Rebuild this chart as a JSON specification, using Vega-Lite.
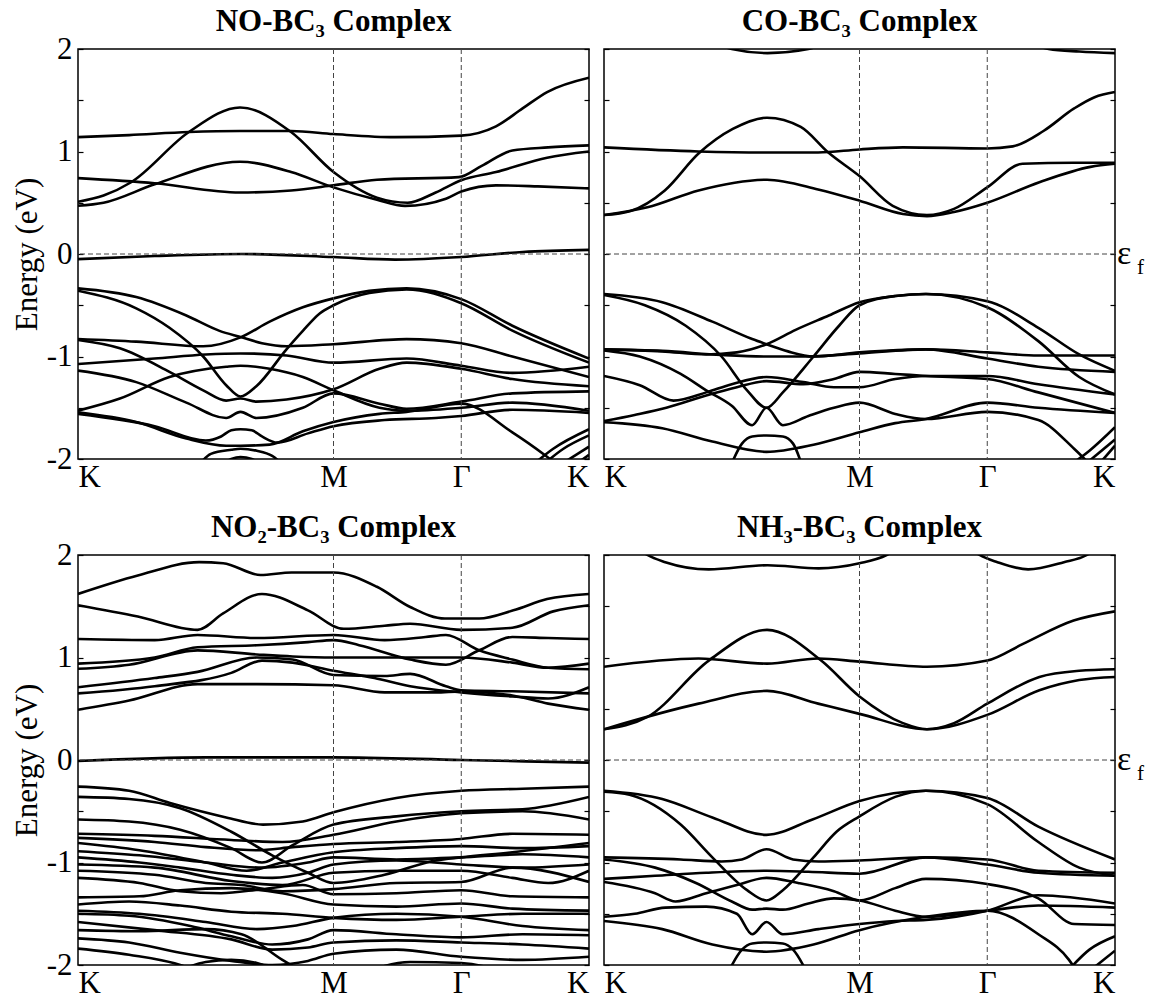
{
"$schema":"https://vega.github.io/schema/vega-lite/v6.json",
"padding":{"left":10,"top":5,"right":5,"bottom":0},
"background":"white",
"datasets":{
"no":[
{"b":"F","x":0,"e":-0.05},{"b":"F","x":0.15,"e":-0.02},{"b":"F","x":0.32,"e":0},{"b":"F","x":0.5,"e":-0.03},{"b":"F","x":0.62,"e":-0.055},{"b":"F","x":0.75,"e":-0.03},{"b":"F","x":0.87,"e":0.02},{"b":"F","x":1,"e":0.04},
{"b":"A","x":0,"e":1.14},{"b":"A","x":0.1,"e":1.16},{"b":"A","x":0.217,"e":1.19},{"b":"A","x":0.317,"e":1.2},{"b":"A","x":0.417,"e":1.2},{"b":"A","x":0.5,"e":1.17},{"b":"A","x":0.62,"e":1.14},{"b":"A","x":0.75,"e":1.155},{"b":"A","x":0.818,"e":1.245},{"b":"A","x":0.87,"e":1.42},{"b":"A","x":0.918,"e":1.58},{"b":"A","x":1,"e":1.72},
{"b":"B","x":0,"e":0.51},{"b":"B","x":0.05,"e":0.57},{"b":"B","x":0.104,"e":0.7},{"b":"B","x":0.217,"e":1.19},{"b":"B","x":0.317,"e":1.43},{"b":"B","x":0.417,"e":1.19},{"b":"B","x":0.5,"e":0.8},{"b":"B","x":0.585,"e":0.55},{"b":"B","x":0.645,"e":0.5},{"b":"B","x":0.7,"e":0.6},{"b":"B","x":0.75,"e":0.72},{"b":"B","x":0.818,"e":0.8},{"b":"B","x":0.918,"e":0.94},{"b":"B","x":1,"e":1.0},
{"b":"C","x":0,"e":0.74},{"b":"C","x":0.15,"e":0.69},{"b":"C","x":0.317,"e":0.6},{"b":"C","x":0.417,"e":0.62},{"b":"C","x":0.5,"e":0.67},{"b":"C","x":0.585,"e":0.725},{"b":"C","x":0.745,"e":0.75},{"b":"C","x":0.79,"e":0.86},{"b":"C","x":0.85,"e":1.01},{"b":"C","x":0.92,"e":1.04},{"b":"C","x":1,"e":1.06},
{"b":"D","x":0,"e":0.47},{"b":"D","x":0.05,"e":0.5},{"b":"D","x":0.15,"e":0.68},{"b":"D","x":0.317,"e":0.9},{"b":"D","x":0.417,"e":0.8},{"b":"D","x":0.5,"e":0.65},{"b":"D","x":0.585,"e":0.53},{"b":"D","x":0.64,"e":0.47},{"b":"D","x":0.72,"e":0.54},{"b":"D","x":0.75,"e":0.61},{"b":"D","x":0.818,"e":0.67},{"b":"D","x":0.9,"e":0.66},{"b":"D","x":1,"e":0.64},
{"b":"L1","x":0,"e":-0.335},{"b":"L1","x":0.114,"e":-0.42},{"b":"L1","x":0.212,"e":-0.6},{"b":"L1","x":0.277,"e":-0.75},{"b":"L1","x":0.318,"e":-0.81},{"b":"L1","x":0.36,"e":-0.87},{"b":"L1","x":0.408,"e":-0.9},{"b":"L1","x":0.5,"e":-0.88},{"b":"L1","x":0.643,"e":-0.83},{"b":"L1","x":0.75,"e":-0.87},{"b":"L1","x":0.85,"e":-1.0},{"b":"L1","x":1,"e":-1.2},
{"b":"L2","x":0,"e":-0.358},{"b":"L2","x":0.114,"e":-0.53},{"b":"L2","x":0.179,"e":-0.72},{"b":"L2","x":0.245,"e":-1.0},{"b":"L2","x":0.29,"e":-1.28},{"b":"L2","x":0.318,"e":-1.39},{"b":"L2","x":0.349,"e":-1.29},{"b":"L2","x":0.408,"e":-0.93},{"b":"L2","x":0.44,"e":-0.75},{"b":"L2","x":0.473,"e":-0.58},{"b":"L2","x":0.5,"e":-0.5},{"b":"L2","x":0.57,"e":-0.38},{"b":"L2","x":0.643,"e":-0.345},{"b":"L2","x":0.75,"e":-0.48},{"b":"L2","x":0.851,"e":-0.75},{"b":"L2","x":1,"e":-1.06},
{"b":"L3","x":0,"e":-0.829},{"b":"L3","x":0.114,"e":-0.855},{"b":"L3","x":0.245,"e":-0.9},{"b":"L3","x":0.318,"e":-0.813},{"b":"L3","x":0.375,"e":-0.66},{"b":"L3","x":0.44,"e":-0.52},{"b":"L3","x":0.5,"e":-0.433},{"b":"L3","x":0.57,"e":-0.36},{"b":"L3","x":0.643,"e":-0.335},{"b":"L3","x":0.75,"e":-0.44},{"b":"L3","x":0.85,"e":-0.7},{"b":"L3","x":1,"e":-1.02},
{"b":"L4","x":0,"e":-0.839},{"b":"L4","x":0.082,"e":-0.92},{"b":"L4","x":0.179,"e":-1.15},{"b":"L4","x":0.245,"e":-1.33},{"b":"L4","x":0.29,"e":-1.43},{"b":"L4","x":0.318,"e":-1.41},{"b":"L4","x":0.349,"e":-1.44},{"b":"L4","x":0.408,"e":-1.42},{"b":"L4","x":0.5,"e":-1.32},{"b":"L4","x":0.59,"e":-1.12},{"b":"L4","x":0.643,"e":-1.06},{"b":"L4","x":0.75,"e":-1.12},{"b":"L4","x":0.85,"e":-1.22},{"b":"L4","x":1,"e":-1.29},
{"b":"L5","x":0,"e":-1.073},{"b":"L5","x":0.15,"e":-1.02},{"b":"L5","x":0.25,"e":-0.98},{"b":"L5","x":0.318,"e":-0.97},{"b":"L5","x":0.408,"e":-0.99},{"b":"L5","x":0.5,"e":-1.06},{"b":"L5","x":0.643,"e":-1.02},{"b":"L5","x":0.75,"e":-1.09},{"b":"L5","x":0.85,"e":-1.16},{"b":"L5","x":1,"e":-1.1},
{"b":"L6","x":0,"e":-1.138},{"b":"L6","x":0.114,"e":-1.25},{"b":"L6","x":0.212,"e":-1.45},{"b":"L6","x":0.29,"e":-1.6},{"b":"L6","x":0.318,"e":-1.54},{"b":"L6","x":0.349,"e":-1.6},{"b":"L6","x":0.44,"e":-1.5},{"b":"L6","x":0.5,"e":-1.36},{"b":"L6","x":0.59,"e":-1.46},{"b":"L6","x":0.643,"e":-1.51},{"b":"L6","x":0.75,"e":-1.44},{"b":"L6","x":0.85,"e":-1.36},{"b":"L6","x":1,"e":-1.34},
{"b":"L7","x":0,"e":-1.528},{"b":"L7","x":0.082,"e":-1.41},{"b":"L7","x":0.179,"e":-1.2},{"b":"L7","x":0.29,"e":-1.1},{"b":"L7","x":0.318,"e":-1.09},{"b":"L7","x":0.375,"e":-1.12},{"b":"L7","x":0.44,"e":-1.2},{"b":"L7","x":0.5,"e":-1.33},{"b":"L7","x":0.59,"e":-1.5},{"b":"L7","x":0.643,"e":-1.53},{"b":"L7","x":0.75,"e":-1.5},{"b":"L7","x":0.85,"e":-1.45},{"b":"L7","x":1,"e":-1.53},
{"b":"L8","x":0,"e":-1.545},{"b":"L8","x":0.114,"e":-1.64},{"b":"L8","x":0.212,"e":-1.8},{"b":"L8","x":0.29,"e":-1.87},{"b":"L8","x":0.318,"e":-1.87},{"b":"L8","x":0.375,"e":-1.86},{"b":"L8","x":0.44,"e":-1.73},{"b":"L8","x":0.5,"e":-1.64},{"b":"L8","x":0.59,"e":-1.56},{"b":"L8","x":0.643,"e":-1.54},{"b":"L8","x":0.75,"e":-1.46},{"b":"L8","x":0.85,"e":-1.74},{"b":"L8","x":0.916,"e":-1.97},{"b":"L8","x":0.95,"e":-2.1},
{"b":"L9","x":0,"e":-1.56},{"b":"L9","x":0.15,"e":-1.68},{"b":"L9","x":0.25,"e":-1.82},{"b":"L9","x":0.28,"e":-1.78},{"b":"L9","x":0.3,"e":-1.72},{"b":"L9","x":0.318,"e":-1.71},{"b":"L9","x":0.34,"e":-1.72},{"b":"L9","x":0.36,"e":-1.78},{"b":"L9","x":0.39,"e":-1.84},{"b":"L9","x":0.45,"e":-1.75},{"b":"L9","x":0.5,"e":-1.68},{"b":"L9","x":0.6,"e":-1.62},{"b":"L9","x":0.7,"e":-1.6},{"b":"L9","x":0.75,"e":-1.58},{"b":"L9","x":0.85,"e":-1.52},{"b":"L9","x":1,"e":-1.55},
{"b":"L10","x":0.23,"e":-2.1},{"b":"L10","x":0.26,"e":-1.95},{"b":"L10","x":0.3,"e":-1.91},{"b":"L10","x":0.318,"e":-1.9},{"b":"L10","x":0.35,"e":-1.92},{"b":"L10","x":0.38,"e":-1.97},{"b":"L10","x":0.41,"e":-2.1},
{"b":"L11","x":0.27,"e":-2.1},{"b":"L11","x":0.3,"e":-2.0},{"b":"L11","x":0.318,"e":-1.98},{"b":"L11","x":0.34,"e":-2.0},{"b":"L11","x":0.37,"e":-2.1},
{"b":"L12","x":0.88,"e":-2.1},{"b":"L12","x":0.93,"e":-1.9},{"b":"L12","x":1,"e":-1.71},
{"b":"L13","x":0.9,"e":-2.1},{"b":"L13","x":0.95,"e":-1.9},{"b":"L13","x":1,"e":-1.77},
{"b":"L14","x":0.93,"e":-2.1},{"b":"L14","x":1,"e":-1.88},
{"b":"L15","x":0.96,"e":-2.1},{"b":"L15","x":1,"e":-1.96}
],
"co":[
{"b":"T1","x":0.22,"e":2.05},{"b":"T1","x":0.25,"e":2.0},{"b":"T1","x":0.32,"e":1.96},{"b":"T1","x":0.4,"e":2.0},{"b":"T1","x":0.43,"e":2.05},
{"b":"T2","x":0.84,"e":2.05},{"b":"T2","x":0.87,"e":2.0},{"b":"T2","x":0.93,"e":1.975},{"b":"T2","x":1,"e":1.96},
{"b":"A","x":0,"e":1.04},{"b":"A","x":0.185,"e":1.0},{"b":"A","x":0.319,"e":0.99},{"b":"A","x":0.419,"e":0.99},{"b":"A","x":0.5,"e":1.02},{"b":"A","x":0.585,"e":1.04},{"b":"A","x":0.75,"e":1.03},{"b":"A","x":0.8,"e":1.05},{"b":"A","x":0.86,"e":1.2},{"b":"A","x":0.92,"e":1.42},{"b":"A","x":0.96,"e":1.53},{"b":"A","x":1,"e":1.58},
{"b":"B","x":0,"e":0.38},{"b":"B","x":0.052,"e":0.42},{"b":"B","x":0.119,"e":0.62},{"b":"B","x":0.185,"e":0.98},{"b":"B","x":0.252,"e":1.22},{"b":"B","x":0.319,"e":1.33},{"b":"B","x":0.385,"e":1.24},{"b":"B","x":0.439,"e":0.99},{"b":"B","x":0.5,"e":0.76},{"b":"B","x":0.565,"e":0.47},{"b":"B","x":0.632,"e":0.38},{"b":"B","x":0.685,"e":0.44},{"b":"B","x":0.75,"e":0.65},{"b":"B","x":0.819,"e":0.88},{"b":"B","x":0.919,"e":0.89},{"b":"B","x":1,"e":0.89},
{"b":"C","x":0,"e":0.38},{"b":"C","x":0.085,"e":0.455},{"b":"C","x":0.185,"e":0.62},{"b":"C","x":0.319,"e":0.725},{"b":"C","x":0.419,"e":0.63},{"b":"C","x":0.5,"e":0.52},{"b":"C","x":0.585,"e":0.39},{"b":"C","x":0.632,"e":0.37},{"b":"C","x":0.685,"e":0.41},{"b":"C","x":0.75,"e":0.5},{"b":"C","x":0.852,"e":0.7},{"b":"C","x":0.952,"e":0.85},{"b":"C","x":1,"e":0.88},
{"b":"C1","x":0,"e":-0.39},{"b":"C1","x":0.114,"e":-0.47},{"b":"C1","x":0.212,"e":-0.66},{"b":"C1","x":0.29,"e":-0.83},{"b":"C1","x":0.318,"e":-0.88},{"b":"C1","x":0.36,"e":-0.95},{"b":"C1","x":0.41,"e":-1.0},{"b":"C1","x":0.5,"e":-0.96},{"b":"C1","x":0.63,"e":-0.93},{"b":"C1","x":0.75,"e":-0.96},{"b":"C1","x":0.85,"e":-0.99},{"b":"C1","x":1,"e":-0.99},
{"b":"C2","x":0,"e":-0.4},{"b":"C2","x":0.08,"e":-0.5},{"b":"C2","x":0.16,"e":-0.7},{"b":"C2","x":0.23,"e":-1.0},{"b":"C2","x":0.28,"e":-1.33},{"b":"C2","x":0.318,"e":-1.5},{"b":"C2","x":0.35,"e":-1.35},{"b":"C2","x":0.41,"e":-1.0},{"b":"C2","x":0.46,"e":-0.7},{"b":"C2","x":0.5,"e":-0.5},{"b":"C2","x":0.57,"e":-0.41},{"b":"C2","x":0.63,"e":-0.39},{"b":"C2","x":0.75,"e":-0.52},{"b":"C2","x":0.85,"e":-0.85},{"b":"C2","x":0.93,"e":-1.2},{"b":"C2","x":1,"e":-1.37},
{"b":"C3","x":0,"e":-0.93},{"b":"C3","x":0.114,"e":-0.95},{"b":"C3","x":0.2,"e":-0.98},{"b":"C3","x":0.26,"e":-0.96},{"b":"C3","x":0.318,"e":-0.88},{"b":"C3","x":0.375,"e":-0.74},{"b":"C3","x":0.44,"e":-0.6},{"b":"C3","x":0.5,"e":-0.47},{"b":"C3","x":0.57,"e":-0.41},{"b":"C3","x":0.63,"e":-0.39},{"b":"C3","x":0.75,"e":-0.46},{"b":"C3","x":0.85,"e":-0.72},{"b":"C3","x":0.93,"e":-0.98},{"b":"C3","x":1,"e":-1.14},
{"b":"C5","x":0,"e":-0.93},{"b":"C5","x":0.114,"e":-0.945},{"b":"C5","x":0.23,"e":-0.985},{"b":"C5","x":0.318,"e":-1.0},{"b":"C5","x":0.4,"e":-1.0},{"b":"C5","x":0.5,"e":-0.97},{"b":"C5","x":0.63,"e":-0.93},{"b":"C5","x":0.75,"e":-1.02},{"b":"C5","x":0.85,"e":-1.1},{"b":"C5","x":1,"e":-1.15},
{"b":"C4","x":0,"e":-0.94},{"b":"C4","x":0.07,"e":-1.0},{"b":"C4","x":0.15,"e":-1.17},{"b":"C4","x":0.2,"e":-1.33},{"b":"C4","x":0.25,"e":-1.48},{"b":"C4","x":0.29,"e":-1.67},{"b":"C4","x":0.318,"e":-1.5},{"b":"C4","x":0.35,"e":-1.67},{"b":"C4","x":0.4,"e":-1.58},{"b":"C4","x":0.45,"e":-1.5},{"b":"C4","x":0.5,"e":-1.45},{"b":"C4","x":0.57,"e":-1.56},{"b":"C4","x":0.63,"e":-1.61},{"b":"C4","x":0.75,"e":-1.54},{"b":"C4","x":0.85,"e":-1.62},{"b":"C4","x":0.92,"e":-1.9},{"b":"C4","x":0.96,"e":-2.1},
{"b":"C6","x":0,"e":-1.19},{"b":"C6","x":0.07,"e":-1.28},{"b":"C6","x":0.136,"e":-1.43},{"b":"C6","x":0.2,"e":-1.35},{"b":"C6","x":0.25,"e":-1.27},{"b":"C6","x":0.318,"e":-1.2},{"b":"C6","x":0.39,"e":-1.25},{"b":"C6","x":0.45,"e":-1.3},{"b":"C6","x":0.5,"e":-1.3},{"b":"C6","x":0.57,"e":-1.22},{"b":"C6","x":0.63,"e":-1.19},{"b":"C6","x":0.75,"e":-1.19},{"b":"C6","x":0.85,"e":-1.27},{"b":"C6","x":1,"e":-1.37},
{"b":"C8","x":0,"e":-1.63},{"b":"C8","x":0.06,"e":-1.57},{"b":"C8","x":0.122,"e":-1.5},{"b":"C8","x":0.2,"e":-1.38},{"b":"C8","x":0.26,"e":-1.3},{"b":"C8","x":0.318,"e":-1.24},{"b":"C8","x":0.39,"e":-1.27},{"b":"C8","x":0.45,"e":-1.22},{"b":"C8","x":0.5,"e":-1.15},{"b":"C8","x":0.57,"e":-1.17},{"b":"C8","x":0.63,"e":-1.19},{"b":"C8","x":0.75,"e":-1.22},{"b":"C8","x":0.85,"e":-1.35},{"b":"C8","x":1,"e":-1.55},
{"b":"C9","x":0,"e":-1.64},{"b":"C9","x":0.114,"e":-1.7},{"b":"C9","x":0.212,"e":-1.83},{"b":"C9","x":0.318,"e":-1.93},{"b":"C9","x":0.41,"e":-1.86},{"b":"C9","x":0.5,"e":-1.74},{"b":"C9","x":0.57,"e":-1.65},{"b":"C9","x":0.63,"e":-1.61},{"b":"C9","x":0.75,"e":-1.45},{"b":"C9","x":0.85,"e":-1.5},{"b":"C9","x":1,"e":-1.55},
{"b":"C10","x":0.245,"e":-2.1},{"b":"C10","x":0.27,"e":-1.85},{"b":"C10","x":0.29,"e":-1.78},{"b":"C10","x":0.318,"e":-1.77},{"b":"C10","x":0.35,"e":-1.78},{"b":"C10","x":0.37,"e":-1.85},{"b":"C10","x":0.39,"e":-2.1},
{"b":"C11","x":0.9,"e":-2.1},{"b":"C11","x":0.95,"e":-1.92},{"b":"C11","x":1,"e":-1.69},
{"b":"C12","x":0.93,"e":-2.1},{"b":"C12","x":1,"e":-1.81},
{"b":"C13","x":0.96,"e":-2.1},{"b":"C13","x":1,"e":-1.87}
],
"no2":[
{"b":"F","x":0,"e":-0.01},{"b":"F","x":0.25,"e":0.026},{"b":"F","x":0.5,"e":0.026},{"b":"F","x":0.75,"e":0.0},{"b":"F","x":1,"e":-0.026},
{"b":"U1","x":0,"e":1.62},{"b":"U1","x":0.117,"e":1.8},{"b":"U1","x":0.237,"e":1.93},{"b":"U1","x":0.284,"e":1.92},{"b":"U1","x":0.357,"e":1.805},{"b":"U1","x":0.418,"e":1.83},{"b":"U1","x":0.5,"e":1.83},{"b":"U1","x":0.585,"e":1.69},{"b":"U1","x":0.651,"e":1.49},{"b":"U1","x":0.718,"e":1.38},{"b":"U1","x":0.785,"e":1.38},{"b":"U1","x":0.852,"e":1.46},{"b":"U1","x":0.918,"e":1.57},{"b":"U1","x":1,"e":1.62},
{"b":"U2","x":0,"e":1.51},{"b":"U2","x":0.117,"e":1.4},{"b":"U2","x":0.234,"e":1.27},{"b":"U2","x":0.284,"e":1.43},{"b":"U2","x":0.36,"e":1.62},{"b":"U2","x":0.45,"e":1.46},{"b":"U2","x":0.52,"e":1.28},{"b":"U2","x":0.6,"e":1.31},{"b":"U2","x":0.65,"e":1.33},{"b":"U2","x":0.75,"e":1.27},{"b":"U2","x":0.85,"e":1.29},{"b":"U2","x":0.93,"e":1.45},{"b":"U2","x":1,"e":1.51},
{"b":"U3","x":0,"e":1.18},{"b":"U3","x":0.15,"e":1.17},{"b":"U3","x":0.234,"e":1.22},{"b":"U3","x":0.35,"e":1.19},{"b":"U3","x":0.5,"e":1.22},{"b":"U3","x":0.6,"e":1.17},{"b":"U3","x":0.68,"e":1.2},{"b":"U3","x":0.72,"e":1.22},{"b":"U3","x":0.785,"e":1.07},{"b":"U3","x":0.85,"e":0.98},{"b":"U3","x":0.92,"e":0.9},{"b":"U3","x":1,"e":0.885},
{"b":"U4","x":0,"e":0.94},{"b":"U4","x":0.15,"e":1.0},{"b":"U4","x":0.234,"e":1.1},{"b":"U4","x":0.35,"e":1.12},{"b":"U4","x":0.45,"e":1.15},{"b":"U4","x":0.5,"e":1.17},{"b":"U4","x":0.55,"e":1.12},{"b":"U4","x":0.65,"e":0.98},{"b":"U4","x":0.72,"e":0.93},{"b":"U4","x":0.785,"e":1.07},{"b":"U4","x":0.85,"e":1.2},{"b":"U4","x":0.92,"e":1.19},{"b":"U4","x":1,"e":1.18},
{"b":"U5","x":0,"e":0.89},{"b":"U5","x":0.1,"e":0.93},{"b":"U5","x":0.234,"e":1.07},{"b":"U5","x":0.35,"e":1.03},{"b":"U5","x":0.42,"e":1.01},{"b":"U5","x":0.5,"e":1.0},{"b":"U5","x":0.6,"e":1.0},{"b":"U5","x":0.75,"e":1.0},{"b":"U5","x":0.85,"e":0.95},{"b":"U5","x":0.92,"e":0.9},{"b":"U5","x":1,"e":0.94},
{"b":"U6","x":0,"e":0.71},{"b":"U6","x":0.15,"e":0.8},{"b":"U6","x":0.234,"e":0.86},{"b":"U6","x":0.35,"e":1.0},{"b":"U6","x":0.42,"e":0.98},{"b":"U6","x":0.5,"e":0.83},{"b":"U6","x":0.6,"e":0.82},{"b":"U6","x":0.65,"e":0.84},{"b":"U6","x":0.72,"e":0.72},{"b":"U6","x":0.75,"e":0.68},{"b":"U6","x":0.85,"e":0.67},{"b":"U6","x":1,"e":0.65},
{"b":"U7","x":0,"e":0.65},{"b":"U7","x":0.15,"e":0.72},{"b":"U7","x":0.3,"e":0.85},{"b":"U7","x":0.36,"e":0.97},{"b":"U7","x":0.42,"e":0.95},{"b":"U7","x":0.5,"e":0.87},{"b":"U7","x":0.58,"e":0.8},{"b":"U7","x":0.65,"e":0.72},{"b":"U7","x":0.75,"e":0.66},{"b":"U7","x":0.85,"e":0.62},{"b":"U7","x":0.92,"e":0.6},{"b":"U7","x":1,"e":0.71},
{"b":"U8","x":0,"e":0.49},{"b":"U8","x":0.1,"e":0.58},{"b":"U8","x":0.234,"e":0.74},{"b":"U8","x":0.35,"e":0.74},{"b":"U8","x":0.5,"e":0.73},{"b":"U8","x":0.6,"e":0.66},{"b":"U8","x":0.7,"e":0.66},{"b":"U8","x":0.75,"e":0.67},{"b":"U8","x":0.85,"e":0.63},{"b":"U8","x":0.92,"e":0.55},{"b":"U8","x":1,"e":0.49},
{"b":"W1","x":0,"e":-0.26},{"b":"W1","x":0.1,"e":-0.3},{"b":"W1","x":0.18,"e":-0.42},{"b":"W1","x":0.29,"e":-0.56},{"b":"W1","x":0.362,"e":-0.63},{"b":"W1","x":0.44,"e":-0.6},{"b":"W1","x":0.5,"e":-0.51},{"b":"W1","x":0.623,"e":-0.37},{"b":"W1","x":0.75,"e":-0.3},{"b":"W1","x":0.87,"e":-0.28},{"b":"W1","x":1,"e":-0.26},
{"b":"W2","x":0,"e":-0.36},{"b":"W2","x":0.1,"e":-0.38},{"b":"W2","x":0.2,"e":-0.47},{"b":"W2","x":0.3,"e":-0.7},{"b":"W2","x":0.38,"e":-0.93},{"b":"W2","x":0.45,"e":-1.1},{"b":"W2","x":0.5,"e":-1.2},{"b":"W2","x":0.6,"e":-1.12},{"b":"W2","x":0.7,"e":-0.98},{"b":"W2","x":0.75,"e":-0.95},{"b":"W2","x":0.85,"e":-0.9},{"b":"W2","x":1,"e":-0.81},
{"b":"W3","x":0,"e":-0.58},{"b":"W3","x":0.1,"e":-0.6},{"b":"W3","x":0.2,"e":-0.68},{"b":"W3","x":0.3,"e":-0.86},{"b":"W3","x":0.36,"e":-1.0},{"b":"W3","x":0.42,"e":-0.83},{"b":"W3","x":0.5,"e":-0.63},{"b":"W3","x":0.623,"e":-0.55},{"b":"W3","x":0.75,"e":-0.5},{"b":"W3","x":0.87,"e":-0.48},{"b":"W3","x":1,"e":-0.36},
{"b":"W4","x":0,"e":-0.72},{"b":"W4","x":0.15,"e":-0.74},{"b":"W4","x":0.3,"e":-0.78},{"b":"W4","x":0.4,"e":-0.8},{"b":"W4","x":0.5,"e":-0.73},{"b":"W4","x":0.623,"e":-0.6},{"b":"W4","x":0.75,"e":-0.52},{"b":"W4","x":0.87,"e":-0.5},{"b":"W4","x":1,"e":-0.58},
{"b":"W5","x":0,"e":-0.76},{"b":"W5","x":0.15,"e":-0.8},{"b":"W5","x":0.25,"e":-0.85},{"b":"W5","x":0.35,"e":-0.88},{"b":"W5","x":0.42,"e":-0.85},{"b":"W5","x":0.5,"e":-0.82},{"b":"W5","x":0.623,"e":-0.8},{"b":"W5","x":0.75,"e":-0.77},{"b":"W5","x":0.85,"e":-0.72},{"b":"W5","x":1,"e":-0.73},
{"b":"W6","x":0,"e":-0.81},{"b":"W6","x":0.12,"e":-0.88},{"b":"W6","x":0.25,"e":-1.0},{"b":"W6","x":0.33,"e":-1.08},{"b":"W6","x":0.4,"e":-1.0},{"b":"W6","x":0.5,"e":-0.9},{"b":"W6","x":0.623,"e":-0.86},{"b":"W6","x":0.75,"e":-0.84},{"b":"W6","x":0.87,"e":-0.86},{"b":"W6","x":1,"e":-0.84},
{"b":"W7","x":0,"e":-0.89},{"b":"W7","x":0.12,"e":-0.93},{"b":"W7","x":0.25,"e":-1.0},{"b":"W7","x":0.36,"e":-1.05},{"b":"W7","x":0.45,"e":-1.0},{"b":"W7","x":0.5,"e":-0.95},{"b":"W7","x":0.623,"e":-0.97},{"b":"W7","x":0.75,"e":-0.95},{"b":"W7","x":0.87,"e":-0.92},{"b":"W7","x":1,"e":-0.95},
{"b":"W8","x":0,"e":-0.95},{"b":"W8","x":0.12,"e":-1.0},{"b":"W8","x":0.2,"e":-1.05},{"b":"W8","x":0.3,"e":-1.12},{"b":"W8","x":0.38,"e":-1.15},{"b":"W8","x":0.45,"e":-1.1},{"b":"W8","x":0.5,"e":-1.02},{"b":"W8","x":0.623,"e":-0.98},{"b":"W8","x":0.75,"e":-1.02},{"b":"W8","x":0.87,"e":-1.05},{"b":"W8","x":1,"e":-1.02},
{"b":"W9","x":0,"e":-1.02},{"b":"W9","x":0.15,"e":-1.05},{"b":"W9","x":0.3,"e":-1.18},{"b":"W9","x":0.4,"e":-1.22},{"b":"W9","x":0.5,"e":-1.1},{"b":"W9","x":0.623,"e":-1.08},{"b":"W9","x":0.75,"e":-1.08},{"b":"W9","x":0.85,"e":-1.15},{"b":"W9","x":0.92,"e":-1.2},{"b":"W9","x":1,"e":-1.08},
{"b":"W10","x":0,"e":-1.08},{"b":"W10","x":0.15,"e":-1.12},{"b":"W10","x":0.25,"e":-1.2},{"b":"W10","x":0.32,"e":-1.22},{"b":"W10","x":0.4,"e":-1.28},{"b":"W10","x":0.5,"e":-1.26},{"b":"W10","x":0.623,"e":-1.2},{"b":"W10","x":0.75,"e":-1.19},{"b":"W10","x":0.85,"e":-1.05},{"b":"W10","x":1,"e":-1.19},
{"b":"W11","x":0,"e":-1.15},{"b":"W11","x":0.12,"e":-1.2},{"b":"W11","x":0.2,"e":-1.28},{"b":"W11","x":0.28,"e":-1.3},{"b":"W11","x":0.36,"e":-1.26},{"b":"W11","x":0.44,"e":-1.22},{"b":"W11","x":0.5,"e":-1.31},{"b":"W11","x":0.623,"e":-1.3},{"b":"W11","x":0.75,"e":-1.27},{"b":"W11","x":0.85,"e":-1.33},{"b":"W11","x":1,"e":-1.34},
{"b":"W12","x":0,"e":-1.34},{"b":"W12","x":0.12,"e":-1.33},{"b":"W12","x":0.2,"e":-1.27},{"b":"W12","x":0.3,"e":-1.25},{"b":"W12","x":0.4,"e":-1.3},{"b":"W12","x":0.5,"e":-1.41},{"b":"W12","x":0.623,"e":-1.43},{"b":"W12","x":0.75,"e":-1.4},{"b":"W12","x":0.85,"e":-1.45},{"b":"W12","x":1,"e":-1.47},
{"b":"W13","x":0,"e":-1.41},{"b":"W13","x":0.1,"e":-1.38},{"b":"W13","x":0.2,"e":-1.42},{"b":"W13","x":0.3,"e":-1.48},{"b":"W13","x":0.4,"e":-1.5},{"b":"W13","x":0.5,"e":-1.54},{"b":"W13","x":0.623,"e":-1.56},{"b":"W13","x":0.75,"e":-1.53},{"b":"W13","x":0.87,"e":-1.5},{"b":"W13","x":1,"e":-1.5},
{"b":"W14","x":0,"e":-1.47},{"b":"W14","x":0.12,"e":-1.5},{"b":"W14","x":0.25,"e":-1.58},{"b":"W14","x":0.35,"e":-1.65},{"b":"W14","x":0.42,"e":-1.62},{"b":"W14","x":0.5,"e":-1.54},{"b":"W14","x":0.623,"e":-1.5},{"b":"W14","x":0.75,"e":-1.53},{"b":"W14","x":0.87,"e":-1.62},{"b":"W14","x":1,"e":-1.66},
{"b":"W15","x":0,"e":-1.5},{"b":"W15","x":0.1,"e":-1.52},{"b":"W15","x":0.22,"e":-1.62},{"b":"W15","x":0.3,"e":-1.72},{"b":"W15","x":0.38,"e":-1.8},{"b":"W15","x":0.45,"e":-1.75},{"b":"W15","x":0.5,"e":-1.66},{"b":"W15","x":0.623,"e":-1.7},{"b":"W15","x":0.75,"e":-1.73},{"b":"W15","x":0.87,"e":-1.7},{"b":"W15","x":1,"e":-1.71},
{"b":"W16","x":0,"e":-1.58},{"b":"W16","x":0.15,"e":-1.66},{"b":"W16","x":0.3,"e":-1.75},{"b":"W16","x":0.38,"e":-1.85},{"b":"W16","x":0.45,"e":-1.83},{"b":"W16","x":0.5,"e":-1.78},{"b":"W16","x":0.623,"e":-1.76},{"b":"W16","x":0.75,"e":-1.78},{"b":"W16","x":0.87,"e":-1.8},{"b":"W16","x":1,"e":-1.84},
{"b":"W17","x":0,"e":-1.66},{"b":"W17","x":0.12,"e":-1.67},{"b":"W17","x":0.25,"e":-1.65},{"b":"W17","x":0.32,"e":-1.7},{"b":"W17","x":0.4,"e":-1.95},{"b":"W17","x":0.45,"e":-2.1},
{"b":"W18","x":0,"e":-1.74},{"b":"W18","x":0.1,"e":-1.78},{"b":"W18","x":0.2,"e":-1.88},{"b":"W18","x":0.3,"e":-1.96},{"b":"W18","x":0.38,"e":-2.0},{"b":"W18","x":0.45,"e":-1.96},{"b":"W18","x":0.5,"e":-1.89},{"b":"W18","x":0.623,"e":-1.85},{"b":"W18","x":0.75,"e":-1.92},{"b":"W18","x":0.87,"e":-1.95},{"b":"W18","x":1,"e":-1.92},
{"b":"W19","x":0,"e":-1.84},{"b":"W19","x":0.1,"e":-1.9},{"b":"W19","x":0.2,"e":-2.0},{"b":"W19","x":0.25,"e":-2.1},
{"b":"W20","x":0.18,"e":-2.1},{"b":"W20","x":0.25,"e":-1.97},{"b":"W20","x":0.3,"e":-1.95},{"b":"W20","x":0.35,"e":-1.98},{"b":"W20","x":0.4,"e":-2.1},
{"b":"W21","x":0.55,"e":-2.1},{"b":"W21","x":0.65,"e":-1.97},{"b":"W21","x":0.75,"e":-1.98},{"b":"W21","x":0.85,"e":-2.1}
],
"nh3":[
{"b":"T1","x":0.07,"e":2.05},{"b":"T1","x":0.085,"e":2.0},{"b":"T1","x":0.12,"e":1.93},{"b":"T1","x":0.205,"e":1.86},{"b":"T1","x":0.32,"e":1.9},{"b":"T1","x":0.42,"e":1.87},{"b":"T1","x":0.5,"e":1.92},{"b":"T1","x":0.553,"e":2.0},{"b":"T1","x":0.57,"e":2.05},
{"b":"T2","x":0.72,"e":2.05},{"b":"T2","x":0.735,"e":2.0},{"b":"T2","x":0.77,"e":1.93},{"b":"T2","x":0.83,"e":1.86},{"b":"T2","x":0.9,"e":1.93},{"b":"T2","x":0.945,"e":2.0},{"b":"T2","x":0.96,"e":2.05},
{"b":"A","x":0,"e":0.91},{"b":"A","x":0.185,"e":0.99},{"b":"A","x":0.319,"e":0.94},{"b":"A","x":0.419,"e":0.99},{"b":"A","x":0.5,"e":0.96},{"b":"A","x":0.632,"e":0.91},{"b":"A","x":0.75,"e":0.97},{"b":"A","x":0.819,"e":1.13},{"b":"A","x":0.919,"e":1.36},{"b":"A","x":1,"e":1.45},
{"b":"B","x":0,"e":0.3},{"b":"B","x":0.085,"e":0.42},{"b":"B","x":0.205,"e":0.97},{"b":"B","x":0.319,"e":1.27},{"b":"B","x":0.425,"e":0.97},{"b":"B","x":0.5,"e":0.62},{"b":"B","x":0.585,"e":0.36},{"b":"B","x":0.632,"e":0.3},{"b":"B","x":0.685,"e":0.36},{"b":"B","x":0.75,"e":0.55},{"b":"B","x":0.852,"e":0.81},{"b":"B","x":0.93,"e":0.87},{"b":"B","x":1,"e":0.885},
{"b":"C","x":0,"e":0.3},{"b":"C","x":0.185,"e":0.55},{"b":"C","x":0.319,"e":0.674},{"b":"C","x":0.419,"e":0.55},{"b":"C","x":0.5,"e":0.45},{"b":"C","x":0.632,"e":0.3},{"b":"C","x":0.75,"e":0.44},{"b":"C","x":0.852,"e":0.68},{"b":"C","x":0.93,"e":0.78},{"b":"C","x":1,"e":0.81},
{"b":"N1","x":0,"e":-0.3},{"b":"N1","x":0.114,"e":-0.38},{"b":"N1","x":0.212,"e":-0.56},{"b":"N1","x":0.318,"e":-0.73},{"b":"N1","x":0.408,"e":-0.58},{"b":"N1","x":0.5,"e":-0.4},{"b":"N1","x":0.63,"e":-0.3},{"b":"N1","x":0.75,"e":-0.37},{"b":"N1","x":0.85,"e":-0.65},{"b":"N1","x":1,"e":-0.97},
{"b":"N2","x":0,"e":-0.31},{"b":"N2","x":0.05,"e":-0.34},{"b":"N2","x":0.15,"e":-0.63},{"b":"N2","x":0.212,"e":-0.95},{"b":"N2","x":0.28,"e":-1.27},{"b":"N2","x":0.318,"e":-1.37},{"b":"N2","x":0.35,"e":-1.27},{"b":"N2","x":0.41,"e":-0.95},{"b":"N2","x":0.455,"e":-0.7},{"b":"N2","x":0.5,"e":-0.55},{"b":"N2","x":0.57,"e":-0.36},{"b":"N2","x":0.63,"e":-0.3},{"b":"N2","x":0.75,"e":-0.43},{"b":"N2","x":0.85,"e":-0.8},{"b":"N2","x":0.93,"e":-1.05},{"b":"N2","x":1,"e":-1.13},
{"b":"N3","x":0,"e":-0.95},{"b":"N3","x":0.15,"e":-0.97},{"b":"N3","x":0.23,"e":-0.99},{"b":"N3","x":0.27,"e":-0.97},{"b":"N3","x":0.318,"e":-0.87},{"b":"N3","x":0.37,"e":-0.97},{"b":"N3","x":0.42,"e":-0.99},{"b":"N3","x":0.5,"e":-0.98},{"b":"N3","x":0.63,"e":-0.95},{"b":"N3","x":0.75,"e":-0.97},{"b":"N3","x":0.85,"e":-1.08},{"b":"N3","x":1,"e":-1.1},
{"b":"N4","x":0,"e":-0.97},{"b":"N4","x":0.1,"e":-1.05},{"b":"N4","x":0.18,"e":-1.2},{"b":"N4","x":0.25,"e":-1.38},{"b":"N4","x":0.29,"e":-1.46},{"b":"N4","x":0.318,"e":-1.45},{"b":"N4","x":0.35,"e":-1.46},{"b":"N4","x":0.4,"e":-1.4},{"b":"N4","x":0.45,"e":-1.35},{"b":"N4","x":0.5,"e":-1.37},{"b":"N4","x":0.57,"e":-1.47},{"b":"N4","x":0.63,"e":-1.53},{"b":"N4","x":0.75,"e":-1.47},{"b":"N4","x":0.85,"e":-1.42},{"b":"N4","x":1,"e":-1.44},
{"b":"N5","x":0,"e":-1.16},{"b":"N5","x":0.1,"e":-1.13},{"b":"N5","x":0.2,"e":-1.1},{"b":"N5","x":0.318,"e":-1.08},{"b":"N5","x":0.4,"e":-1.09},{"b":"N5","x":0.5,"e":-1.11},{"b":"N5","x":0.63,"e":-0.95},{"b":"N5","x":0.75,"e":-1.02},{"b":"N5","x":0.85,"e":-1.1},{"b":"N5","x":1,"e":-1.13},
{"b":"N6","x":0,"e":-1.19},{"b":"N6","x":0.1,"e":-1.3},{"b":"N6","x":0.14,"e":-1.38},{"b":"N6","x":0.2,"e":-1.3},{"b":"N6","x":0.26,"e":-1.22},{"b":"N6","x":0.318,"e":-1.15},{"b":"N6","x":0.38,"e":-1.2},{"b":"N6","x":0.45,"e":-1.28},{"b":"N6","x":0.5,"e":-1.37},{"b":"N6","x":0.57,"e":-1.25},{"b":"N6","x":0.63,"e":-1.16},{"b":"N6","x":0.75,"e":-1.21},{"b":"N6","x":0.85,"e":-1.35},{"b":"N6","x":0.92,"e":-1.6},{"b":"N6","x":1,"e":-1.61},
{"b":"N7","x":0,"e":-1.53},{"b":"N7","x":0.06,"e":-1.5},{"b":"N7","x":0.12,"e":-1.44},{"b":"N7","x":0.2,"e":-1.43},{"b":"N7","x":0.26,"e":-1.5},{"b":"N7","x":0.29,"e":-1.7},{"b":"N7","x":0.318,"e":-1.58},{"b":"N7","x":0.35,"e":-1.7},{"b":"N7","x":0.42,"e":-1.65},{"b":"N7","x":0.5,"e":-1.6},{"b":"N7","x":0.57,"e":-1.57},{"b":"N7","x":0.63,"e":-1.56},{"b":"N7","x":0.75,"e":-1.47},{"b":"N7","x":0.85,"e":-1.32},{"b":"N7","x":1,"e":-1.4},
{"b":"N8","x":0,"e":-1.57},{"b":"N8","x":0.114,"e":-1.65},{"b":"N8","x":0.212,"e":-1.8},{"b":"N8","x":0.318,"e":-1.87},{"b":"N8","x":0.41,"e":-1.8},{"b":"N8","x":0.5,"e":-1.66},{"b":"N8","x":0.63,"e":-1.53},{"b":"N8","x":0.75,"e":-1.47},{"b":"N8","x":0.85,"e":-1.7},{"b":"N8","x":0.91,"e":-1.95},{"b":"N8","x":0.93,"e":-2.1},
{"b":"N9","x":0.24,"e":-2.1},{"b":"N9","x":0.27,"e":-1.85},{"b":"N9","x":0.29,"e":-1.79},{"b":"N9","x":0.318,"e":-1.78},{"b":"N9","x":0.35,"e":-1.79},{"b":"N9","x":0.37,"e":-1.85},{"b":"N9","x":0.4,"e":-2.1},
{"b":"N10","x":0.9,"e":-2.1},{"b":"N10","x":0.95,"e":-1.85},{"b":"N10","x":1,"e":-1.72},
{"b":"N11","x":0.94,"e":-2.1},{"b":"N11","x":1,"e":-1.86}
]
},
"concat":[
{"width":511,"height":410,"title":{"text":"NO-BC₃ Complex","offset":-5},
"layer":[
{"data":{"name":"no"},"mark":{"type":"line","interpolate":"monotone","clip":true,"color":"black","strokeWidth":2.6},
"encoding":{"x":{"field":"x","type":"quantitative","scale":{"domain":[0,1],"nice":false,"zero":false},"axis":{"values":[0,0.5,0.75,1],"labelExpr":"datum.value==0.5?'M':datum.value==0.75?'Γ':'K'","ticks":false,"title":null,"labelFlush":true,"labelPadding":3}},
"y":{"field":"e","type":"quantitative","scale":{"domain":[-2,2],"nice":false,"zero":false},"axis":{"orient":"left","values":[-2,-1.5,-1,-0.5,0,0.5,1,1.5,2],"labelExpr":"datum.value%1!=0?'':(datum.value<0?'-'+abs(datum.value):''+datum.value)","tickSize":-5,"labelPadding":11,"title":"Energy (eV)","titlePadding":3}},
"detail":{"field":"b"}}},
{"data":{"values":[{"x":0.5},{"x":0.75}]},"mark":{"type":"rule","strokeDash":[5,3],"color":"#444","strokeWidth":1},"encoding":{"x":{"field":"x","type":"quantitative"}}},
{"data":{"values":[{"e":0}]},"mark":{"type":"rule","strokeDash":[5,3],"color":"#444","strokeWidth":1},"encoding":{"y":{"field":"e","type":"quantitative","axis":{"orient":"right","values":[-2,-1.5,-1,-0.5,0,0.5,1,1.5,2],"labels":false,"tickSize":-5,"title":null}}}}
],
"resolve":{"axis":{"y":"independent"}}},
{"width":511,"height":410,"title":{"text":"CO-BC₃ Complex","offset":10},
"layer":[
{"data":{"name":"co"},"mark":{"type":"line","interpolate":"monotone","clip":true,"color":"black","strokeWidth":2.6},
"encoding":{"x":{"field":"x","type":"quantitative","scale":{"domain":[0,1],"nice":false,"zero":false},"axis":{"values":[0,0.5,0.75,1],"labelExpr":"datum.value==0.5?'M':datum.value==0.75?'Γ':'K'","ticks":false,"title":null,"labelFlush":true,"labelPadding":3}},
"y":{"field":"e","type":"quantitative","scale":{"domain":[-2,2],"nice":false,"zero":false},"axis":{"orient":"left","values":[-2,-1.5,-1,-0.5,0,0.5,1,1.5,2],"labels":false,"tickSize":-5,"title":null}},
"detail":{"field":"b"}}},
{"data":{"values":[{"x":0.5},{"x":0.75}]},"mark":{"type":"rule","strokeDash":[5,3],"color":"#444","strokeWidth":1},"encoding":{"x":{"field":"x","type":"quantitative"}}},
{"data":{"values":[{"e":0}]},"mark":{"type":"rule","strokeDash":[5,3],"color":"#444","strokeWidth":1},"encoding":{"y":{"field":"e","type":"quantitative","axis":{"orient":"right","values":[-2,-1.5,-1,-0.5,0,0.5,1,1.5,2],"labels":false,"tickSize":-5,"title":null}}}},
{"data":{"values":[{"x":1,"e":0,"t":"ε"}]},"mark":{"type":"text","align":"left","baseline":"middle","dx":2,"fontSize":34,"font":"Liberation Serif"},"encoding":{"text":{"field":"t"},"x":{"field":"x","type":"quantitative"},"y":{"field":"e","type":"quantitative","axis":null}}},
{"data":{"values":[{"x":1,"e":0,"t":"f"}]},"mark":{"type":"text","align":"left","baseline":"middle","dx":22,"dy":14,"fontSize":21,"font":"Liberation Serif"},"encoding":{"text":{"field":"t"},"x":{"field":"x","type":"quantitative"},"y":{"field":"e","type":"quantitative","axis":null}}}
],
"resolve":{"axis":{"y":"independent"}}},
{"width":511,"height":410,"title":{"text":"NO₂-BC₃ Complex","offset":-5},
"layer":[
{"data":{"name":"no2"},"mark":{"type":"line","interpolate":"monotone","clip":true,"color":"black","strokeWidth":2.6},
"encoding":{"x":{"field":"x","type":"quantitative","scale":{"domain":[0,1],"nice":false,"zero":false},"axis":{"values":[0,0.5,0.75,1],"labelExpr":"datum.value==0.5?'M':datum.value==0.75?'Γ':'K'","ticks":false,"title":null,"labelFlush":true,"labelPadding":3}},
"y":{"field":"e","type":"quantitative","scale":{"domain":[-2,2],"nice":false,"zero":false},"axis":{"orient":"left","values":[-2,-1.5,-1,-0.5,0,0.5,1,1.5,2],"labelExpr":"datum.value%1!=0?'':(datum.value<0?'-'+abs(datum.value):''+datum.value)","tickSize":-5,"labelPadding":11,"title":"Energy (eV)","titlePadding":3}},
"detail":{"field":"b"}}},
{"data":{"values":[{"x":0.5},{"x":0.75}]},"mark":{"type":"rule","strokeDash":[5,3],"color":"#444","strokeWidth":1},"encoding":{"x":{"field":"x","type":"quantitative"}}},
{"data":{"values":[{"e":0}]},"mark":{"type":"rule","strokeDash":[5,3],"color":"#444","strokeWidth":1},"encoding":{"y":{"field":"e","type":"quantitative","axis":{"orient":"right","values":[-2,-1.5,-1,-0.5,0,0.5,1,1.5,2],"labels":false,"tickSize":-5,"title":null}}}}
],
"resolve":{"axis":{"y":"independent"}}},
{"width":511,"height":410,"title":{"text":"NH₃-BC₃ Complex","offset":10},
"layer":[
{"data":{"name":"nh3"},"mark":{"type":"line","interpolate":"monotone","clip":true,"color":"black","strokeWidth":2.6},
"encoding":{"x":{"field":"x","type":"quantitative","scale":{"domain":[0,1],"nice":false,"zero":false},"axis":{"values":[0,0.5,0.75,1],"labelExpr":"datum.value==0.5?'M':datum.value==0.75?'Γ':'K'","ticks":false,"title":null,"labelFlush":true,"labelPadding":3}},
"y":{"field":"e","type":"quantitative","scale":{"domain":[-2,2],"nice":false,"zero":false},"axis":{"orient":"left","values":[-2,-1.5,-1,-0.5,0,0.5,1,1.5,2],"labels":false,"tickSize":-5,"title":null}},
"detail":{"field":"b"}}},
{"data":{"values":[{"x":0.5},{"x":0.75}]},"mark":{"type":"rule","strokeDash":[5,3],"color":"#444","strokeWidth":1},"encoding":{"x":{"field":"x","type":"quantitative"}}},
{"data":{"values":[{"e":0}]},"mark":{"type":"rule","strokeDash":[5,3],"color":"#444","strokeWidth":1},"encoding":{"y":{"field":"e","type":"quantitative","axis":{"orient":"right","values":[-2,-1.5,-1,-0.5,0,0.5,1,1.5,2],"labels":false,"tickSize":-5,"title":null}}}},
{"data":{"values":[{"x":1,"e":0,"t":"ε"}]},"mark":{"type":"text","align":"left","baseline":"middle","dx":2,"fontSize":34,"font":"Liberation Serif"},"encoding":{"text":{"field":"t"},"x":{"field":"x","type":"quantitative"},"y":{"field":"e","type":"quantitative","axis":null}}},
{"data":{"values":[{"x":1,"e":0,"t":"f"}]},"mark":{"type":"text","align":"left","baseline":"middle","dx":22,"dy":14,"fontSize":21,"font":"Liberation Serif"},"encoding":{"text":{"field":"t"},"x":{"field":"x","type":"quantitative"},"y":{"field":"e","type":"quantitative","axis":null}}}
],
"resolve":{"axis":{"y":"independent"}}}
],
"columns":2,
"spacing":{"row":96,"column":15},
"bounds":"flush",
"config":{
"view":{"stroke":"black","strokeWidth":1.5},
"font":"Liberation Serif",
"title":{"font":"Liberation Serif","fontSize":31,"fontWeight":"bold","color":"black","anchor":"middle","frame":"group"},
"axis":{"domain":false,"grid":false,"labelFont":"Liberation Serif","labelFontSize":31,"labelColor":"black","titleFont":"Liberation Serif","titleFontSize":31,"titleFontWeight":"normal","titleColor":"black","tickColor":"black","tickWidth":1.2,"labelOverlap":false}
}
}
